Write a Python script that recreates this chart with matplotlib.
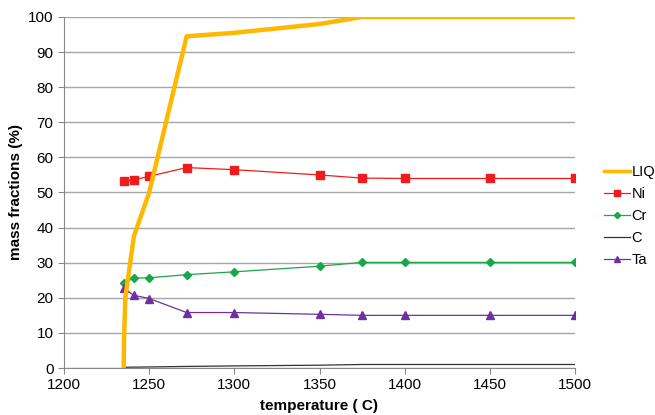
"""Mass fractions versus temperature chart."""

import matplotlib.pyplot as plt

plt.rcParams['font.family'] = ['Liberation Sans', 'DejaVu Sans']

liq_t = [1235, 1235.3, 1236, 1241, 1250, 1272, 1300, 1350, 1375, 1500]
liq_v = [0, 9, 20, 37.5, 50, 94.5, 95.5, 98, 100, 100]

temps = [1235, 1241, 1250, 1272, 1300, 1350, 1375, 1400, 1450, 1500]
ni = [53.2, 53.6, 54.6, 57.1, 56.5, 55.0, 54.1, 54.0, 54.0, 54.0]
cr = [24.2, 25.6, 25.7, 26.6, 27.4, 29.0, 30.1, 30.1, 30.1, 30.1]
c = [0.2, 0.25, 0.3, 0.45, 0.6, 0.8, 1.0, 1.0, 1.0, 1.0]
ta = [22.8, 20.7, 19.8, 15.8, 15.8, 15.3, 15.0, 15.0, 15.0, 15.0]

fig = plt.figure(figsize=(6.55, 4.15), dpi=100)
ax = fig.add_axes([64 / 655, 47 / 415, 511 / 655, 351 / 415])

ax.plot(liq_t, liq_v, color='#ffb800', lw=3.2, label='LIQ', zorder=3)
ax.plot(temps, ni, color='#ee1c1c', lw=0.9, marker='s', ms=6, label='Ni')
ax.plot(temps, cr, color='#1aa64a', lw=0.9, marker='D', ms=4, label='Cr')
ax.plot(temps, c, color='#333333', lw=0.9, label='C')
ax.plot(temps, ta, color='#7030a0', lw=0.9, marker='^', ms=6, label='Ta')

ax.set_xlim(1200, 1500)
ax.set_ylim(0, 100)
ax.set_xticks(range(1200, 1501, 50))
ax.set_yticks(range(0, 101, 10))
ax.grid(axis='y', color='#a6a6a6', lw=1.0)
ax.set_axisbelow(True)
for s in ['top', 'right']:
    ax.spines[s].set_visible(False)
for s in ['left', 'bottom']:
    ax.spines[s].set_color('#888888')
ax.tick_params(colors='#888888', labelcolor='black', labelsize=11, length=4)

ax.set_xlabel('temperature ( C)', fontsize=11, fontweight='bold', labelpad=5)
ax.set_ylabel('mass fractions (%)', fontsize=11, fontweight='bold')

leg = ax.legend(loc='upper left', bbox_to_anchor=(604 / 655, 1 - 165 / 415),
                bbox_transform=fig.transFigure, frameon=False, fontsize=10.5,
                borderaxespad=0, borderpad=0, handlelength=1.75,
                handletextpad=0.15, labelspacing=0.55, markerscale=0.8)
leg.get_lines()[0].set_linewidth(2.5)

fig.savefig('out.png', dpi=100)
